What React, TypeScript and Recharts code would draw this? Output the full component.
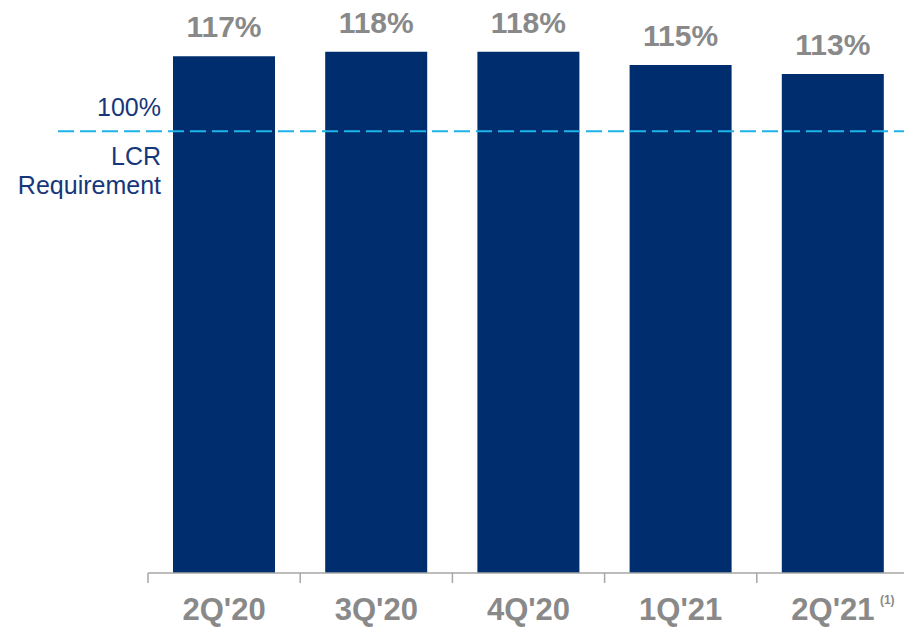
import React from 'react';
import { BarChart, Bar, XAxis, YAxis, ReferenceLine, LabelList } from 'recharts';

const quarters = ["2Q'20", "3Q'20", "4Q'20", "1Q'21", "2Q'21"];
const lcrValues = [117, 118, 118, 115, 113];
const footnotes = ['', '', '', '', '(1)'];
const requirementValue = 100;
const requirementAbove = '100%';
const requirementBelow = ['LCR', 'Requirement'];

const data = quarters.map((q, i) => ({ quarter: q, lcr: lcrValues[i] }));

const W = 912;
const H = 627;
const AXIS_H = 30;
const margin = { top: 43, right: 3, bottom: 54 - AXIS_H, left: 148 };
const band = (W - margin.left - margin.right) / quarters.length;

const FONT = '"Liberation Sans", Arial, sans-serif';
const NAVY = '#002D6E';
const GRAY = '#898989';
const AXIS = '#A6A6A6';
const CYAN = '#1DB4E8';
const TEXT_NAVY = '#16377A';

const Tick = (props: any) => {
  const { x, y, payload } = props;
  const idx = quarters.indexOf(payload.value);
  const note = footnotes[idx];
  return (
    <g>
      <line x1={x - band / 2} y1={y} x2={x - band / 2} y2={y + 10} stroke={AXIS} strokeWidth={1.5} />
      <text x={x} y={y + 47} textAnchor="middle" fill={GRAY} fontSize={31} fontWeight="bold" fontFamily={FONT}>
        {payload.value}
      </text>
      {note ? (
        <text x={x + 47} y={y + 31} textAnchor="start" fill={GRAY} fontSize={12} fontWeight="bold" fontFamily={FONT}>
          {note}
        </text>
      ) : null}
    </g>
  );
};

const RefShape = (props: any) => {
  const { y1, x2, y2 } = props;
  const startX = 58;
  const textX = 161;
  return (
    <g>
      <line x1={startX} y1={y1} x2={x2} y2={y2} stroke={CYAN} strokeWidth={2} strokeDasharray="16 6" />
      <text x={textX} y={y1 - 15} textAnchor="end" fill={TEXT_NAVY} fontSize={25} fontFamily={FONT}>
        {requirementAbove}
      </text>
      {requirementBelow.map((t, i) => (
        <text key={t} x={textX} y={y1 + 34 + i * 29} textAnchor="end" fill={TEXT_NAVY} fontSize={25} fontFamily={FONT}>
          {t}
        </text>
      ))}
    </g>
  );
};

export default function App() {
  return (
    <div style={{ position: 'absolute', left: 0, top: 0, width: 904, height: 627, overflow: 'hidden', background: '#fff' }}>
      <BarChart width={W} height={H} data={data} margin={margin}>
        <XAxis
          dataKey="quarter"
          interval={0}
          height={AXIS_H}
          tickLine={false}
          tickSize={0}
          tickMargin={0}
          axisLine={{ stroke: AXIS, strokeWidth: 1.5 }}
          tick={(p: any) => <Tick {...p} />}
        />
        <YAxis hide domain={[0, 120]} allowDataOverflow />
        <Bar dataKey="lcr" fill={NAVY} barSize={102} isAnimationActive={false}>
          <LabelList
            dataKey="lcr"
            position="top"
            offset={19}
            formatter={(v: any) => `${v}%`}
            fill={GRAY}
            fontSize={30}
            fontWeight="bold"
            fontFamily={FONT}
          />
        </Bar>
        <ReferenceLine y={requirementValue} ifOverflow="visible" shape={(p: any) => <RefShape {...p} />} />
      </BarChart>
    </div>
  );
}
